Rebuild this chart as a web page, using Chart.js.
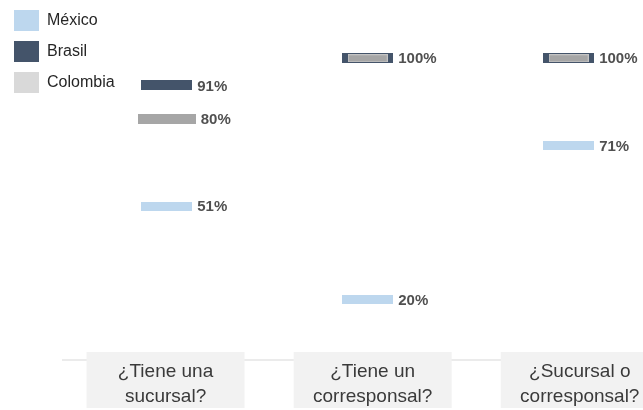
<!DOCTYPE html>
<html lang="es">
<head>
<meta charset="utf-8">
<title>Sucursal / corresponsal</title>
<script src="https://cdn.jsdelivr.net/npm/chart.js@4.4.0/dist/chart.umd.min.js"></script>
<style>
  html, body { margin: 0; padding: 0; background: #fff; }
  #wrap { position: relative; width: 643px; height: 410px; }
</style>
</head>
<body>
<div id="wrap"><canvas id="chart"></canvas></div>
<script>
// data
const categories = [["¿Tiene una", "sucursal?"], ["¿Tiene un", "corresponsal?"], ["¿Sucursal o", "corresponsal?"]];
const mexico = [51, 20, 71];
const brasil = [91, 100, 100];
const colombia = [80, 100, 100];

const FONT = "'Liberation Sans', Arial, sans-serif";
Chart.defaults.font.family = FONT;

// small flat bar used as point marker
function bar(w, h, color, edge) {
  const c = document.createElement("canvas");
  c.width = w;
  c.height = h;
  const g = c.getContext("2d");
  g.fillStyle = color;
  g.fillRect(0, 0, w, h);
  if (edge) {
    g.strokeStyle = edge;
    g.lineWidth = 1;
    g.strokeRect(0.5, 0.5, w - 1, h - 1);
  }
  return c;
}

const mexBar = bar(51, 9, "#bdd7ee");
const braBar = bar(51, 10, "#44546a");
const colWide = bar(58, 10, "#a6a6a6");
const colInner = bar(40, 8, "#a6a6a6", "#c4c4c4");

const points = (arr) => arr.map((v, i) => ({ x: i, y: v }));

// baseline + grey category boxes under the marks
const categoryBoxes = {
  id: "categoryBoxes",
  beforeDatasetsDraw(chart) {
    const ctx = chart.ctx;
    const base = chart.scales.y.getPixelForValue(0);
    const xl = chart.scales.xl;
    ctx.save();
    ctx.strokeStyle = "#ebebeb";
    ctx.lineWidth = 2;
    ctx.beginPath();
    ctx.moveTo(62, base);
    ctx.lineTo(chart.width, base);
    ctx.stroke();
    ctx.font = "19px " + FONT;
    ctx.textAlign = "center";
    categories.forEach((lines, i) => {
      const cx = xl.getPixelForValue(i);
      ctx.fillStyle = "#f2f2f2";
      ctx.fillRect(cx - 79, base - 8, 158, 56);
      ctx.fillStyle = "#3a3a3a";
      lines.forEach((t, k) => ctx.fillText(t, cx, base + 17 + k * 25));
    });
    ctx.restore();
  }
};

// percent labels to the right of each marker (one per spot)
const valueLabels = {
  id: "valueLabels",
  afterDatasetsDraw(chart) {
    const ctx = chart.ctx;
    const done = {};
    ctx.save();
    ctx.font = "bold 15px " + FONT;
    ctx.fillStyle = "#505050";
    ctx.textBaseline = "middle";
    chart.data.datasets.forEach((ds, di) => {
      chart.getDatasetMeta(di).data.forEach((pt, i) => {
        const v = ds.data[i].y;
        const key = i + "-" + v;
        if (done[key]) return;
        done[key] = true;
        const img = pt.options.pointStyle;
        ctx.fillText(v + "%", pt.x + img.width / 2 + 5, pt.y + 1);
      });
    });
    ctx.restore();
  }
};

new Chart(document.getElementById("chart"), {
  type: "line",
  data: {
    datasets: [
      {
        label: "México",
        data: points(mexico),
        backgroundColor: "#bdd7ee",
        borderColor: "#bdd7ee",
        borderWidth: 0,
        showLine: false,
        pointStyle: mexBar,
        order: 0
      },
      {
        label: "Brasil",
        data: points(brasil),
        backgroundColor: "#44546a",
        borderColor: "#44546a",
        borderWidth: 0,
        showLine: false,
        pointStyle: braBar,
        order: 1
      },
      {
        label: "Colombia",
        data: points(colombia),
        backgroundColor: "#d9d9d9",
        borderColor: "#d9d9d9",
        borderWidth: 0,
        showLine: false,
        // where it overlaps Brasil it shows as a thinner bar inside
        pointStyle: (c) => (colombia[c.dataIndex] === brasil[c.dataIndex] ? colInner : colWide),
        order: 0
      }
    ]
  },
  options: {
    responsive: true,
    maintainAspectRatio: false,
    animation: false,
    events: [],
    layout: { padding: { top: 2, bottom: 50, left: 0, right: 0 } },
    scales: {
      x: { type: "linear", min: -0.81, max: 2.35, display: false },
      xl: { type: "linear", axis: "x", min: -0.78, max: 2.286, display: false },
      y: { min: 0, max: 118, display: false }
    },
    plugins: {
      tooltip: { enabled: false },
      legend: {
        position: "chartArea",
        align: "start",
        labels: {
          boxWidth: 25,
          boxHeight: 21,
          padding: 10,
          color: "#262626",
          font: { size: 16 },
          sort: (a, b) => a.datasetIndex - b.datasetIndex
        }
      }
    }
  },
  plugins: [categoryBoxes, valueLabels]
});
</script>
</body>
</html>
